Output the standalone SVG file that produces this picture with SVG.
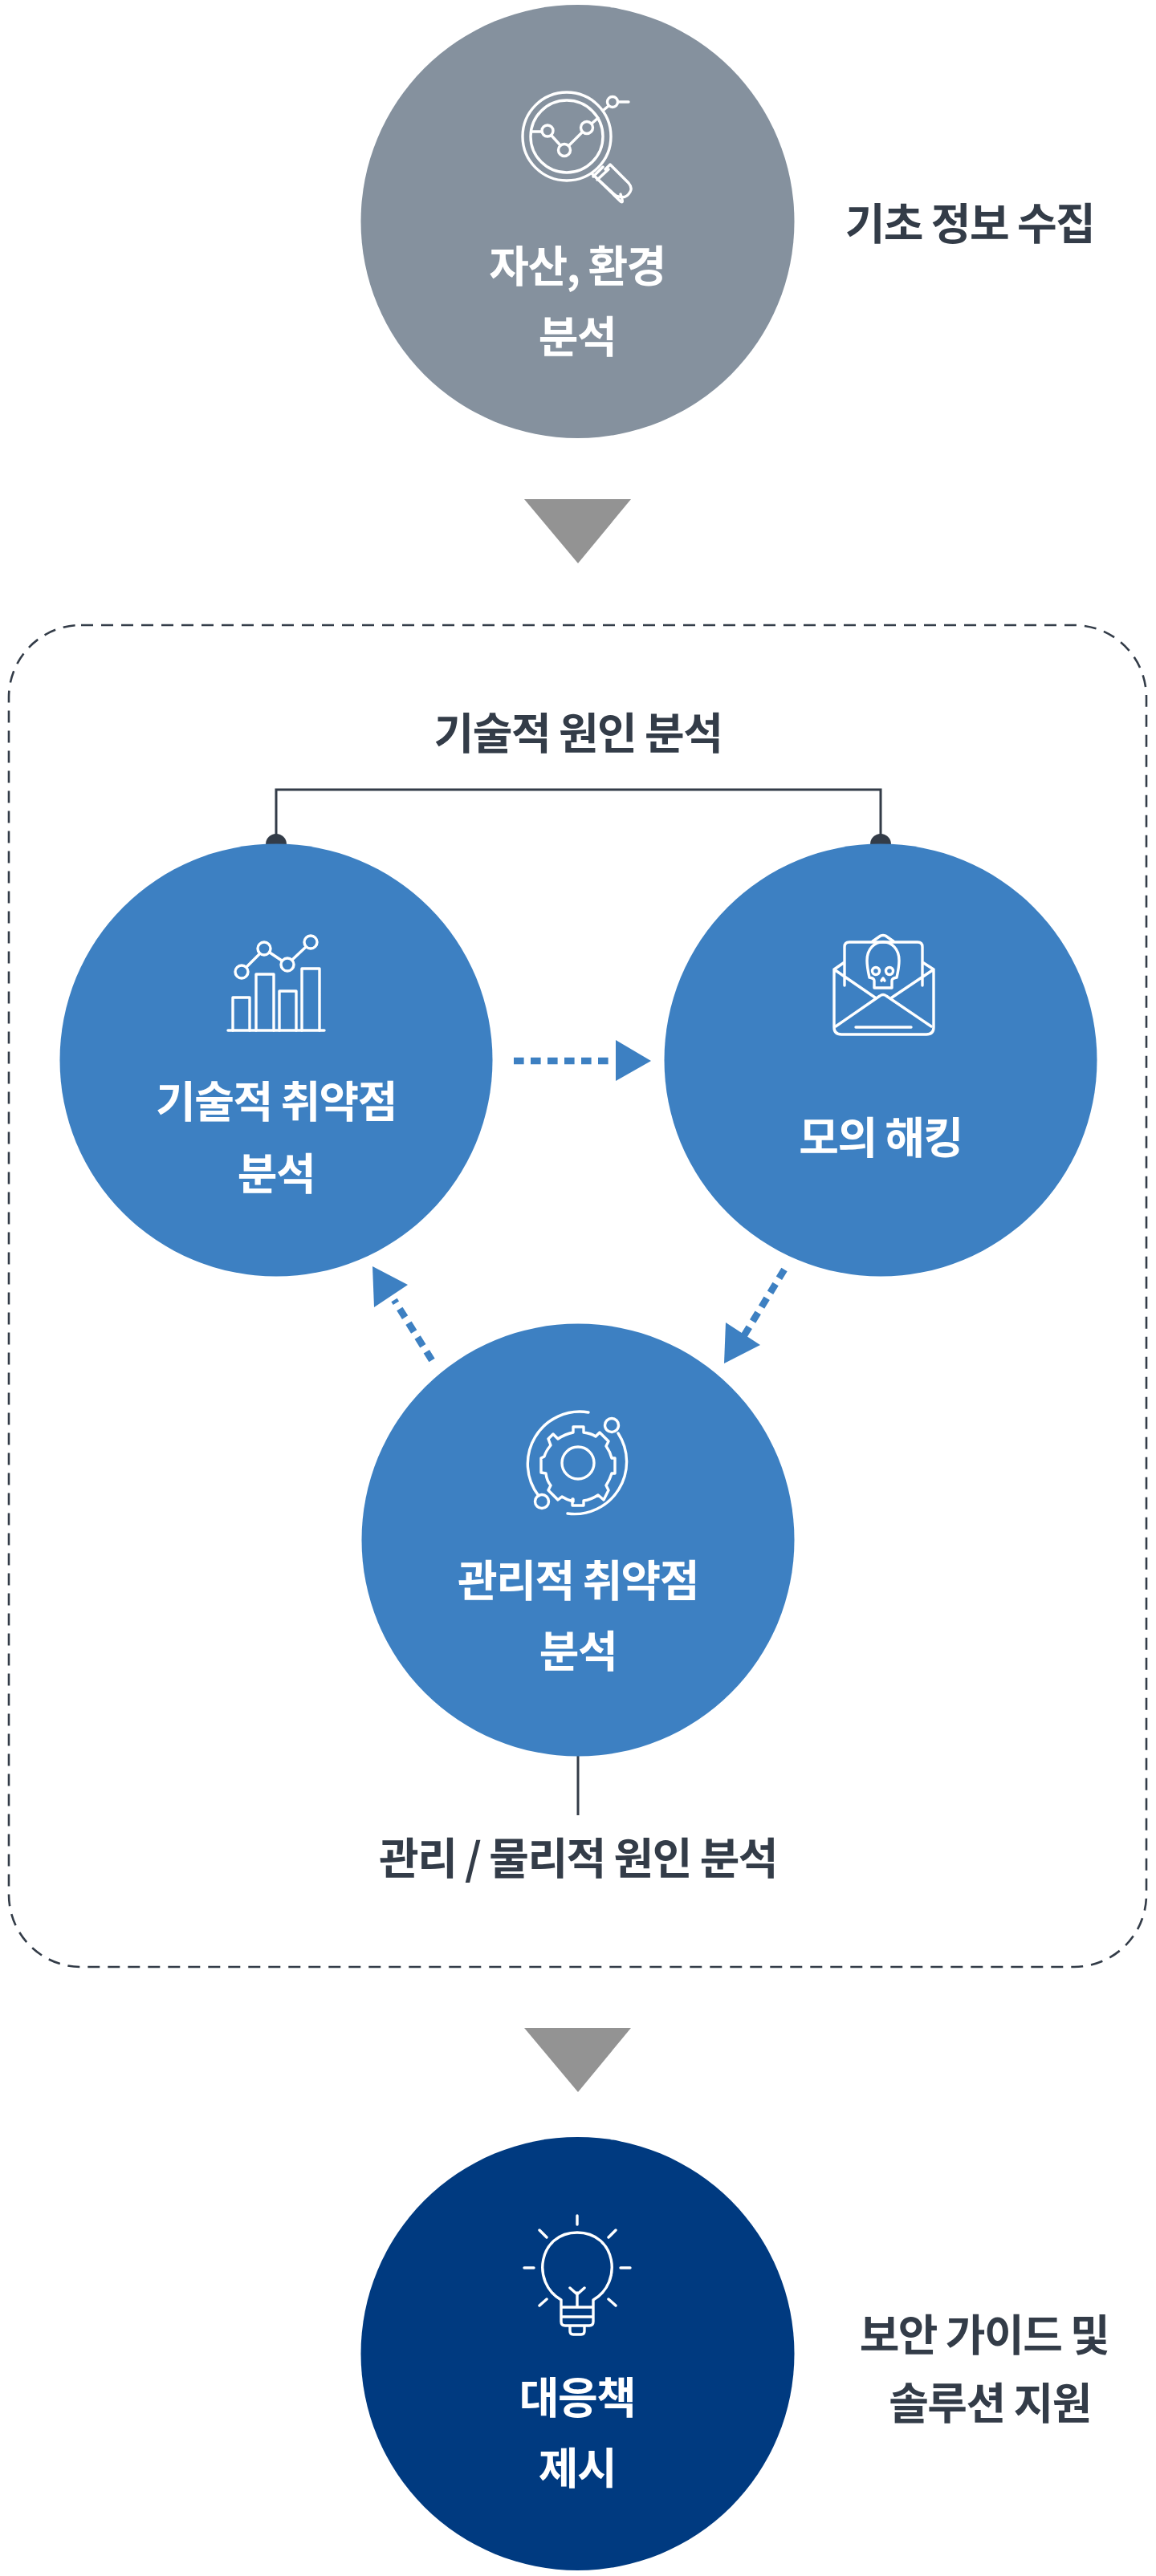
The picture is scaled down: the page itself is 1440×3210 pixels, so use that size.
<svg xmlns="http://www.w3.org/2000/svg" width="1440" height="3210" viewBox="0 0 1440 3210">
<style>
text{font-family:"Noto Sans CJK KR","Noto Sans",sans-serif;font-weight:700;text-anchor:middle;font-size:54px;letter-spacing:-1.5px}
.w{fill:#fff}.d{fill:#333c48}
.i{fill:none;stroke:#fff;stroke-width:3.4;stroke-linecap:round;stroke-linejoin:round}
.a{fill:none;stroke:#3d80c2;stroke-width:8.6;stroke-dasharray:12.6 8.4}
.c{fill:none;stroke:#333c48;stroke-width:3}
</style>
<rect width="1440" height="3210" fill="#fff"/>
<g id="frame"><rect x="11" y="779" width="1417" height="1672" rx="90" fill="none" stroke="#333c48" stroke-width="2.6" stroke-dasharray="15 10"/></g>
<g id="connectors">
<path class="c" d="M344 1052V984H1097V1052"/>
<path class="c" d="M720 2187V2262"/>
<circle cx="344" cy="1052" r="13" fill="#333c48"/>
<circle cx="1097" cy="1052" r="13" fill="#333c48"/>
<path class="a" d="M640 1322H760"/>
<path fill="#3d80c2" d="M767 1296L811 1322L767 1347Z"/>
<path class="a" d="M977 1582L927 1664"/>
<path fill="#3d80c2" d="M904 1648L947 1676L902 1699Z"/>
<path class="a" d="M538 1695L491 1620"/>
<path fill="#3d80c2" d="M464 1578L508 1601L466 1629Z"/>
<path fill="#939393" d="M653 622H786L720 702Z"/>
<path fill="#939393" d="M653 2527H786L720 2607Z"/>
</g>
<g id="node-asset">
<circle cx="719.5" cy="276" r="270" fill="#85919e"/>
<g class="i">
<circle cx="706" cy="170" r="55"/><circle cx="706" cy="170" r="45"/>
<circle cx="682" cy="163" r="7"/><circle cx="703" cy="187" r="7.5"/><circle cx="731" cy="159" r="7.5"/><circle cx="763" cy="127" r="6.5"/>
<path d="M662 164H675M687 169L698 181M709 181L725 165M737 154L745 147M752 137L758 132M770 127H783"/>
<path d="M738 217L772 250Q778 256 773 242M760 205L783 228Q788 234 785 239Q780 248 771 245Q768 245 765 242L738 217M760 205L754 211M751 208L739 220M744 224L758 211"/>
</g>
<text class="w" x="719" y="352">자산, 환경</text>
<text class="w" x="719" y="440">분석</text>
</g>
<text class="d" x="1208" y="299">기초 정보 수집</text>
<text class="d" x="720" y="934">기술적 원인 분석</text>
<g id="node-tech">
<circle cx="344" cy="1321" r="269.5" fill="#3d80c2"/>
<g class="i">
<path d="M284 1284H404"/>
<path d="M290 1284V1243H311V1284M319 1284V1214H341V1284M348 1284V1235H369V1284M376 1284V1207H398V1284"/>
<circle cx="301" cy="1211" r="8"/><circle cx="329" cy="1182" r="8"/><circle cx="358" cy="1202" r="8"/><circle cx="387" cy="1174" r="8"/>
<path d="M307 1205L323 1189M336 1187L351 1197M364 1196L381 1180"/>
</g>
<text class="w" x="344" y="1393">기술적 취약점</text>
<text class="w" x="344" y="1483">분석</text>
</g>
<g id="node-hack">
<circle cx="1097" cy="1321" r="269.5" fill="#3d80c2"/>
<g class="i">
<path d="M1039 1208V1280Q1039 1289 1048 1289H1154Q1163 1289 1163 1280V1208L1149 1199M1052 1199L1039 1208L1090 1243M1163 1208L1111 1243M1052 1228V1180Q1052 1174 1058 1174H1143Q1149 1174 1149 1180V1228"/>
<path d="M1041 1279L1096 1241Q1100 1238 1104 1241L1160 1279M1066 1280H1135"/>
<path d="M1087 1173L1097 1166Q1100 1165 1103 1166L1113 1173"/>
<path d="M1083 1218Q1080 1205 1080 1197C1080 1166 1120 1166 1120 1197Q1120 1205 1117 1218Q1111 1219 1111 1222V1231H1089V1222Q1089 1219 1083 1218Z"/>
<circle cx="1091" cy="1210" r="4.5"/><circle cx="1108" cy="1210" r="4.5"/>
<path d="M1098 1222L1100 1219L1102 1222"/>
</g>
<text class="w" x="1097" y="1438">모의 해킹</text>
</g>
<g id="node-mgmt">
<circle cx="720" cy="1919" r="269.5" fill="#3d80c2"/>
<g class="i">
<circle cx="720" cy="1823" r="20"/>
<path d="M714 1778V1785Q704 1787 695 1793L689 1787L683 1793L686 1801Q680 1808 678 1815L674 1817V1835L680 1836Q681 1845 686 1851L683 1857L695 1869L700 1865Q706 1869 714 1871V1868H713V1876H727V1870Q736 1869 745 1863L752 1869L758 1857L755 1851Q760 1843 762 1836H766V1817H762Q760 1809 755 1802L758 1796L747 1785L742 1790Q736 1786 727 1785V1778Z"/>
<path d="M733 1760A65 65 0 0 0 671 1864M770 1786A65 65 0 0 1 707 1886"/>
<circle cx="762" cy="1776" r="8.5"/><circle cx="675" cy="1871" r="8.5"/>
</g>
<text class="w" x="720" y="1990">관리적 취약점</text>
<text class="w" x="720" y="2078">분석</text>
</g>
<text class="d" x="720" y="2336">관리 / 물리적 원인 분석</text>
<g id="node-solution">
<circle cx="719.5" cy="2933" r="270" fill="#003a80"/>
<g class="i">
<path d="M699 2866V2893Q699 2898 704 2898H734Q739 2898 739 2893V2866C777 2844 767 2782 719 2782C671 2782 661 2844 699 2866ZM699 2875H739M699 2887H739M710 2899V2905Q710 2909 714 2909H724Q728 2909 728 2905V2899M719 2875V2857M710 2851L719 2859L728 2851"/>
<path d="M719 2761V2772M672 2779L681 2788M767 2779L758 2788M653 2826H665M773 2826H785M672 2873L681 2865M767 2873L758 2865"/>
</g>
<text class="w" x="719" y="3008">대응책</text>
<text class="w" x="719" y="3096">제시</text>
</g>
<text class="d" x="1226" y="2930">보안 가이드 및</text>
<text class="d" x="1233" y="3015">솔루션 지원</text>
</svg>
